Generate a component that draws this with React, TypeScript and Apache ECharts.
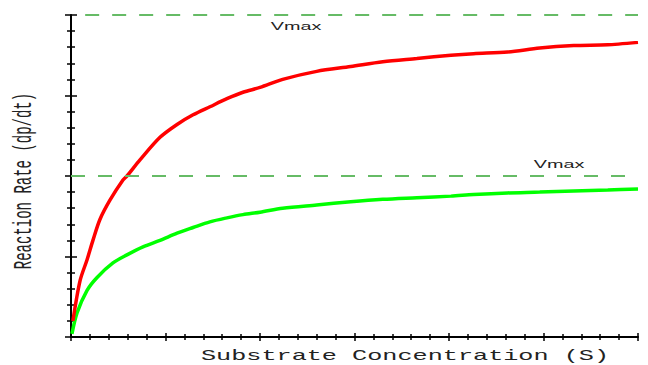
import React, { useEffect, useRef } from "react";
import * as echarts from "echarts";

// Substrate concentration (x) and reaction rate (y) readings
const redS = [0.1, 0.48, 0.85, 1.16, 1.53, 2.06, 2.75, 2.96, 3.65, 4.71, 5.61, 6.46, 7.35, 8.25, 9.1, 10, 11.2, 13, 14.8, 16.5, 18.3, 20.1, 21.3, 23.1, 24.8, 26.6, 28.4, 30];
const redV = [1.0, 3.5, 4.8, 6.0, 7.3, 8.5, 9.75, 10.0, 11.0, 12.4, 13.2, 13.8, 14.3, 14.8, 15.2, 15.5, 16.0, 16.5, 16.8, 17.1, 17.3, 17.5, 17.6, 17.7, 17.95, 18.1, 18.15, 18.3];
const greenS = [0.05, 0.32, 0.85, 1.38, 2.22, 2.96, 3.81, 4.71, 5.61, 6.46, 7.35, 8.25, 9.1, 10, 11.2, 13, 14.8, 16.5, 18.3, 20.1, 21.3, 23.1, 24.8, 26.6, 28.4, 30];
const greenV = [0.2, 1.5, 2.9, 3.7, 4.6, 5.1, 5.6, 6.0, 6.45, 6.8, 7.15, 7.4, 7.6, 7.75, 8.0, 8.2, 8.4, 8.55, 8.65, 8.75, 8.85, 8.95, 9.0, 9.07, 9.13, 9.19];
const vmaxRed = 20;
const vmaxGreen = 10;
const xMin = 0, xMax = 30, xInterval = 5;
const yMin = 0, yMax = 20, yInterval = 5;
const xTitle = "Substrate Concentration (S)";
const yTitle = "Reaction Rate (dp/dt)";
const vmaxLabel = "Vmax";

export default function App() {
  const ref = useRef<HTMLDivElement>(null);
  useEffect(() => {
    if (!ref.current) return;
    const chart = echarts.init(ref.current, null, { renderer: "svg" });
    const tickStyle = { color: "#000", width: 1.5 };
    const baseX = {
      type: "value", min: xMin, max: xMax, interval: xInterval,
      axisLabel: { show: false }, splitLine: { show: false },
    };
    const baseY = {
      type: "value", min: yMin, max: yMax, interval: yInterval,
      axisLabel: { show: false }, splitLine: { show: false },
    };
    const dashStyle = { color: "#66bb66", width: 2, type: [14, 13] };
    const option: any = {
      animation: false,
      grid: { left: 71, right: 10, top: 15, bottom: 28 },
      xAxis: [
        {
          ...baseX, position: "bottom",
          axisLine: { show: true, onZero: false, lineStyle: { color: "#000", width: 2 } },
          axisTick: { show: true, length: 4, lineStyle: tickStyle },
          minorTick: { show: true, splitNumber: 5, length: 3, lineStyle: tickStyle },
        },
        {
          ...baseX, position: "bottom",
          axisLine: { show: false, onZero: false },
          axisTick: { show: true, inside: true, length: 4, lineStyle: tickStyle },
          minorTick: { show: true, splitNumber: 5, length: 3, lineStyle: tickStyle },
        },
      ],
      yAxis: [
        {
          ...baseY, position: "left",
          axisLine: { show: true, onZero: false, lineStyle: { color: "#000", width: 2 } },
          axisTick: { show: true, length: 6, lineStyle: tickStyle },
          minorTick: { show: true, splitNumber: 5, length: 4, lineStyle: tickStyle },
        },
        {
          ...baseY, position: "left",
          axisLine: { show: false, onZero: false },
          axisTick: { show: true, inside: true, length: 6, lineStyle: tickStyle },
          minorTick: { show: true, splitNumber: 5, length: 4, lineStyle: tickStyle },
        },
      ],
      series: [
        {
          type: "line", xAxisIndex: 0, yAxisIndex: 0,
          data: greenS.map((s, i) => [s, greenV[i]]),
          showSymbol: false, symbol: "none", smooth: 0.3,
          lineStyle: { color: "#00ff00", width: 3.5 },
          z: 3,
        },
        {
          type: "line", xAxisIndex: 0, yAxisIndex: 0,
          data: redS.map((s, i) => [s, redV[i]]),
          showSymbol: false, symbol: "none", smooth: 0.3,
          lineStyle: { color: "#ff0000", width: 3.5 },
          z: 4,
          markLine: {
            silent: true, symbol: "none", label: { show: false },
            lineStyle: dashStyle,
            data: [
              [{ coord: [0.75, vmaxRed] }, { coord: [xMax, vmaxRed] }],
              [{ coord: [xMin, vmaxGreen] }, { coord: [xMax, vmaxGreen] }],
            ],
          },
        },
      ],
      graphic: [
        {
          type: "text", x: 296, y: 26, scaleX: 1.8, silent: true,
          style: { text: vmaxLabel, font: "11px 'Liberation Sans'", fill: "#222", align: "center", verticalAlign: "middle" },
        },
        {
          type: "text", x: 559, y: 164, scaleX: 1.8, silent: true,
          style: { text: vmaxLabel, font: "11px 'Liberation Sans'", fill: "#222", align: "center", verticalAlign: "middle" },
        },
        {
          type: "text", x: 405, y: 356, scaleX: 1.8, silent: true,
          style: { text: xTitle, font: "14px 'Liberation Mono'", fill: "#222", align: "center", verticalAlign: "middle" },
        },
        {
          type: "text", x: 24, y: 181, rotation: Math.PI / 2, scaleY: 1.8, silent: true,
          style: { text: yTitle, font: "14px 'Liberation Mono'", fill: "#222", align: "center", verticalAlign: "middle" },
        },
      ],
    };
    chart.setOption(option);
    return () => chart.dispose();
  }, []);
  return (
    <div
      ref={ref}
      style={{ position: "fixed", left: 0, top: 0, width: 648, height: 365, background: "#fff" }}
    />
  );
}
